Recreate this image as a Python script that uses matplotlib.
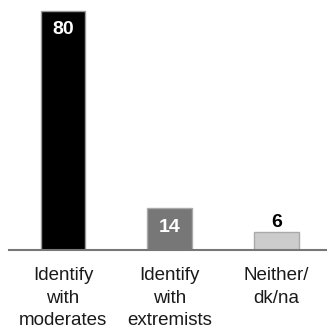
import matplotlib
matplotlib.use("Agg")
import matplotlib.pyplot as plt
from matplotlib.transforms import offset_copy

# Datos del gráfico
categorias = ["Identify\nwith\nmoderates", "Identify\nwith\nextremists", "Neither/\ndk/na"]
valores = [80, 14, 6]
colores = ["#000000", "#777777", "#cccccc"]
bordes = ["#999999", "#aaaaaa", "#aaaaaa"]

plt.rcParams['font.family'] = ['Liberation Sans', 'DejaVu Sans']

fig = plt.figure(figsize=(3.27, 3.33), dpi=100)
ax = fig.add_axes([9 / 327, 83 / 333, 318 / 327, 250 / 333])

x = range(len(valores))
ax.bar(x, valores, width=0.42, color=colores, edgecolor=bordes, linewidth=1, zorder=2)

ax.set_xlim(-0.506, 2.473)
ax.set_ylim(0, 250 / 2.99)

# Etiquetas de valores: dentro de la barra si es alta, encima si es baja
for i, v in enumerate(valores):
    if v > 10:
        ax.text(i, v, str(v), ha='center', va='center', color='white', fontsize=14, fontweight='bold',
                transform=offset_copy(ax.transData, fig=fig, x=0, y=-19, units='dots'))
    else:
        ax.text(i, v, str(v), ha='center', va='bottom', color='black', fontsize=14, fontweight='bold',
                transform=offset_copy(ax.transData, fig=fig, x=0, y=1, units='dots'))

ax.set_xticks(list(x))
ax.set_xticklabels(categorias, fontsize=13.5, linespacing=1.45, color='#1a1a1a')
ax.tick_params(axis='x', length=0, pad=12)
ax.set_yticks([])

for lado in ['top', 'right', 'left']:
    ax.spines[lado].set_visible(False)
ax.spines['bottom'].set_color('#777777')
ax.spines['bottom'].set_linewidth(1.5)

fig.savefig("out.png", dpi=100)
